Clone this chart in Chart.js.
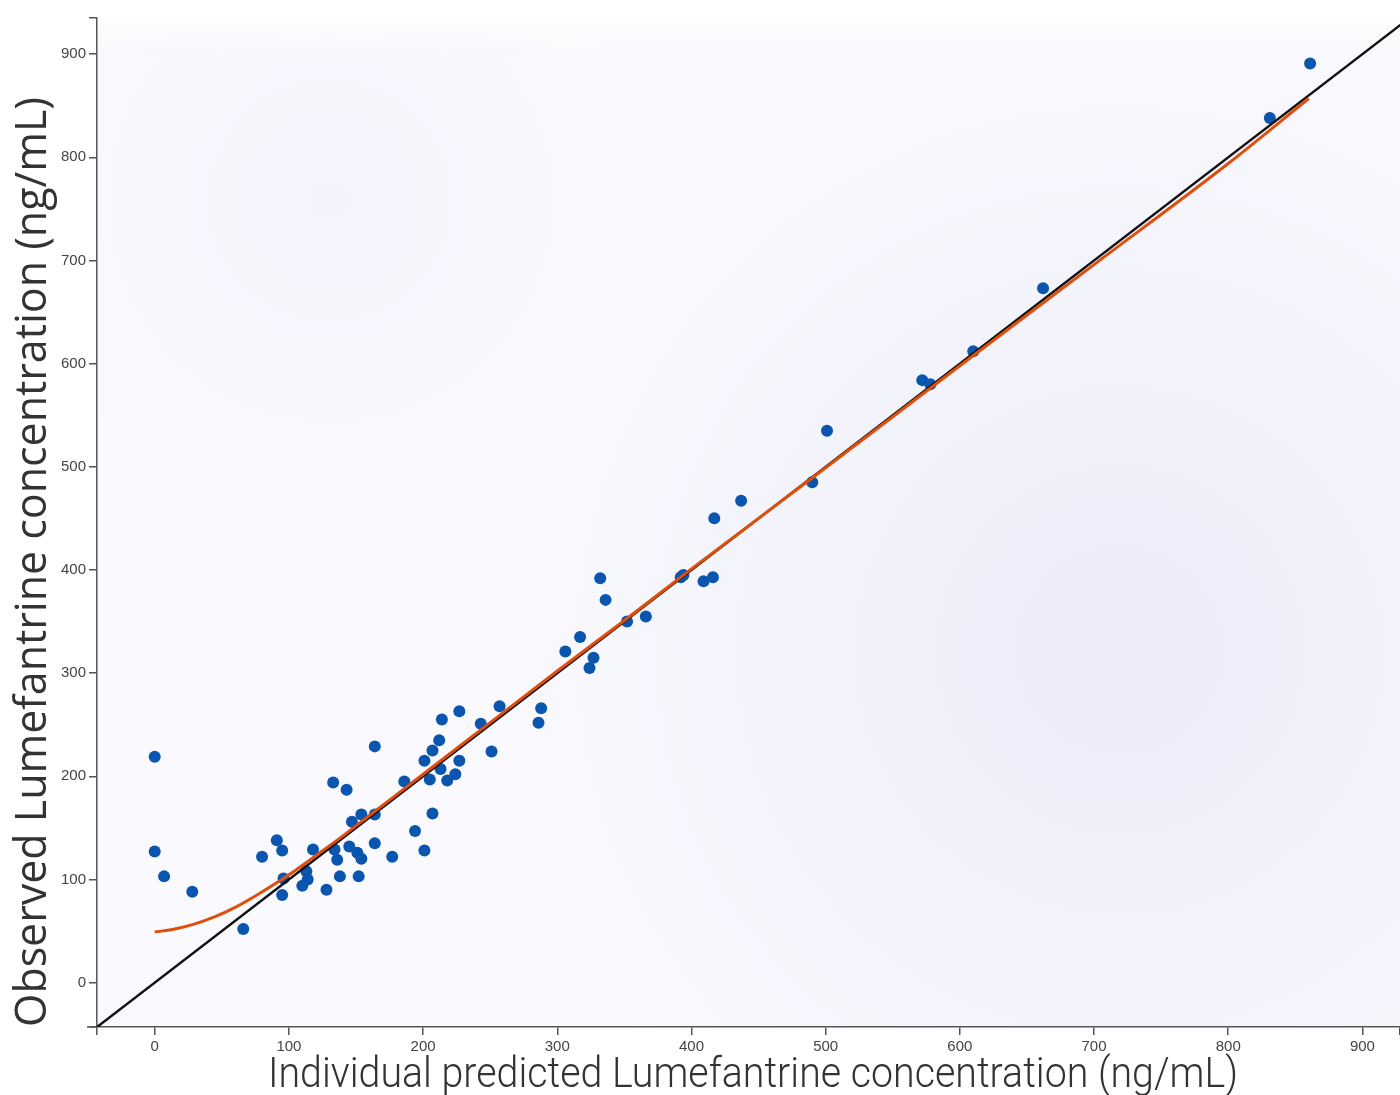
<!DOCTYPE html>
<html>
<head>
<meta charset="utf-8">
<script src="https://cdn.jsdelivr.net/npm/chart.js@4/dist/chart.umd.min.js"></script>
<style>
    html, body { margin: 0; padding: 0; background: #fff; }
    canvas { display: block; }
</style>
</head>
<body>
<canvas id="gof" width="1400" height="1095"></canvas>
<script>
// individual predicted vs observed (ng/mL)
const predicted = [0, 0, 7, 28, 66, 80, 91, 95, 95, 96, 110, 113, 114, 118, 128, 134, 136, 138,
    145, 151, 154, 152, 133, 143, 147, 154, 164, 164, 164, 177, 186, 194, 201, 207, 201, 205,
    207, 212, 213, 214, 218, 224, 227, 227, 243, 251, 257, 288, 286, 306, 317, 327, 324, 332,
    336, 352, 366, 392, 394, 409, 416, 417, 437, 490, 501, 572, 578, 610, 662, 831, 861];
const observed = [219, 127, 103, 88, 52, 122, 138, 128, 85, 101, 94, 108, 100, 129, 90, 129, 119, 103,
    132, 126, 120, 103, 194, 187, 156, 163, 163, 229, 135, 122, 195, 147, 128, 164, 215, 197,
    225, 235, 207, 255, 196, 202, 215, 263, 251, 224, 268, 266, 252, 321, 335, 315, 305, 392,
    371, 350, 355, 393, 395, 389, 393, 450, 467, 485, 535, 584, 580, 612, 673, 838, 891];

// smoother (loess) curve
const loessPred = [0, 15, 30, 45, 60, 75, 90, 105, 120, 140, 160, 180, 200, 250, 300, 350, 400, 450, 500, 600, 700, 800, 860];
const loessObs  = [49, 52, 57, 64, 73, 84, 96, 109, 123, 142, 162, 182, 202, 252, 302, 351, 401, 450, 499, 598, 696, 794, 857];

// line of identity
const identity = [-60, 960];

const tickValues = [0, 100, 200, 300, 400, 500, 600, 700, 800, 900];
const xRange = [-43, 928];
const yRange = [-43, 935];

const axisColor = '#555';
const tickFont = { family: '"Liberation Sans", Arial, sans-serif', size: 15 };

// soft lavender wash behind the plot
const backdrop = {
    id: 'backdrop',
    beforeDraw(chart) {
        const { ctx, chartArea: a } = chart;
        const w = a.right - a.left, h = a.bottom - a.top;
        ctx.save();
        ctx.fillStyle = '#ffffff';
        ctx.fillRect(0, 0, chart.width, chart.height);
        ctx.fillStyle = '#f9f9fe';
        ctx.fillRect(a.left, a.top, w, h);
        let g = ctx.createRadialGradient(1120, 650, 0, 1120, 650, 620);
        g.addColorStop(0, 'rgba(232,232,248,0.8)');
        g.addColorStop(1, 'rgba(232,232,248,0)');
        ctx.fillStyle = g;
        ctx.fillRect(a.left, a.top, w, h);
        g = ctx.createRadialGradient(330, 200, 0, 330, 200, 320);
        g.addColorStop(0, 'rgba(238,238,250,0.5)');
        g.addColorStop(1, 'rgba(238,238,250,0)');
        ctx.fillStyle = g;
        ctx.fillRect(a.left, a.top, w, h);
        g = ctx.createLinearGradient(0, a.top, 0, a.top + 40);
        g.addColorStop(0, 'rgba(255,255,255,0.8)');
        g.addColorStop(1, 'rgba(255,255,255,0)');
        ctx.fillStyle = g;
        ctx.fillRect(a.left, a.top, w, 40);
        ctx.restore();
    }
};

// big axis titles, squeezed to the width they take in the figure
function fitText(ctx, text, font, width) {
    ctx.font = font;
    return width / ctx.measureText(text).width;
}

const titles = {
    id: 'titles',
    afterDraw(chart) {
        const { ctx, chartArea: a } = chart;
        ctx.save();
        // extend x axis line a little past the y axis
        ctx.strokeStyle = axisColor;
        ctx.lineWidth = 1.5;
        ctx.beginPath();
        ctx.moveTo(a.left - 10, a.bottom);
        ctx.lineTo(a.left, a.bottom);
        ctx.stroke();

        ctx.fillStyle = '#333';
        ctx.textAlign = 'center';
        ctx.textBaseline = 'alphabetic';

        const xt = 'Individual predicted Lumefantrine concentration (ng/mL)';
        const xf = '300 43px Roboto, "Liberation Sans", sans-serif';
        const sx = fitText(ctx, xt, xf, 970);
        ctx.save();
        ctx.translate(753, 1087);
        ctx.scale(sx, 1);
        ctx.fillText(xt, 0, 0);
        ctx.restore();

        const yt = 'Observed Lumefantrine concentration (ng/mL)';
        const yf = '44px "Open Sans", "Liberation Sans", sans-serif';
        const sy = fitText(ctx, yt, yf, 930);
        ctx.save();
        ctx.translate(46, 562);
        ctx.rotate(-Math.PI / 2);
        ctx.scale(sy, 1);
        ctx.fillText(yt, 0, 0);
        ctx.restore();
        ctx.restore();
    }
};

function axis(range, size, dim) {
    return {
        type: 'linear',
        min: range[0],
        max: range[1],
        afterBuildTicks: s => {
            s.ticks = [range[0], ...tickValues, range[1]].map(v => ({ value: v }));
        },
        afterFit: s => {
            s[dim] = size;
            s.paddingLeft = 0;
            s.paddingRight = 0;
            s.paddingTop = 0;
            s.paddingBottom = 0;
        },
        ticks: {
            autoSkip: false,
            maxRotation: 0,
            color: '#444',
            font: tickFont,
            padding: 3,
            callback: v => tickValues.includes(v) ? String(v) : ''
        },
        grid: {
            drawOnChartArea: false,
            drawTicks: true,
            tickLength: 8,
            color: axisColor,
            lineWidth: 1.5
        },
        border: { display: true, color: axisColor, width: 1.5 }
    };
}

new Chart(document.getElementById('gof'), {
    type: 'scatter',
    data: {
        datasets: [
            {
                label: 'loess',
                data: loessPred.map((x, i) => ({ x, y: loessObs[i] })),
                showLine: true,
                borderColor: '#e04e0c',
                borderWidth: 3,
                pointRadius: 0,
                cubicInterpolationMode: 'monotone',
                order: 0
            },
            {
                label: 'identity',
                data: identity.map(v => ({ x: v, y: v })),
                showLine: true,
                borderColor: '#111',
                borderWidth: 2.5,
                pointRadius: 0,
                order: 1
            },
            {
                label: 'observations',
                data: predicted.map((x, i) => ({ x, y: observed[i] })),
                backgroundColor: '#0a55ad',
                borderWidth: 0,
                pointRadius: 6,
                order: 2
            }
        ]
    },
    options: {
        responsive: false,
        animation: false,
        layout: { autoPadding: false, padding: { top: 18, right: 0, left: 0, bottom: 0 } },
        plugins: {
            legend: { display: false },
            tooltip: { enabled: false }
        },
        scales: {
            x: axis(xRange, 68, 'height'),
            y: axis(yRange, 97, 'width')
        }
    },
    plugins: [backdrop, titles]
});
</script>
</body>
</html>
